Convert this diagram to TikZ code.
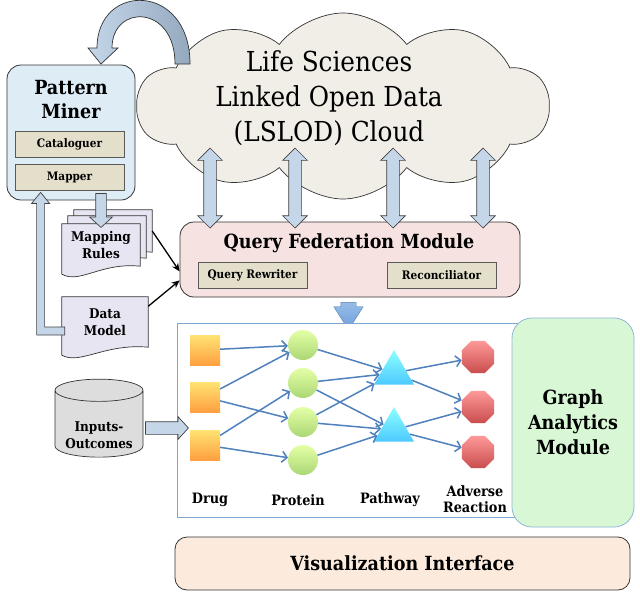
\documentclass[tikz,border=0pt]{standalone}
\usepackage{fontspec}
\setmainfont{DejaVu Serif Condensed}
\usetikzlibrary{positioning,calc,arrows.meta,shapes.geometric,shapes.symbols,shapes.arrows,backgrounds}

\definecolor{minerblue}{HTML}{DDECF5}
\definecolor{khaki}{HTML}{E3DFCB}
\definecolor{cloudfill}{HTML}{F1EEE7}
\definecolor{linkblue}{HTML}{C5D6E9}
\definecolor{loopdark}{HTML}{94A9BF}
\definecolor{qfmpink}{HTML}{F6E2E0}
\definecolor{graphedge}{HTML}{7FA7D1}
\definecolor{gagreen}{HTML}{D8F7D5}
\definecolor{gaedge}{HTML}{8FB5D8}
\definecolor{vispeach}{HTML}{FCEBDD}
\definecolor{doclav}{HTML}{E7E5F2}
\definecolor{cylgray}{HTML}{DDDDDD}
\definecolor{edgeblue}{HTML}{4F81BD}
\definecolor{fedblue}{HTML}{6C9FDC}

\tikzset{
  module/.style={draw=black!80, rounded corners=14pt, line width=0.8pt},
  titletext/.style={font=\bfseries\fontsize{19.5}{24}\selectfont, align=center},
  subbox/.style={draw=black!65, fill=khaki, line width=0.6pt, minimum width=109,
    minimum height=26, inner sep=0pt, font=\bfseries\fontsize{11.7}{13}\selectfont},
  smalltext/.style={font=\bfseries\fontsize{13.4}{17}\selectfont, align=center},
  labeltext/.style={font=\bfseries\fontsize{14.3}{16}\selectfont, align=center},
  linkarrow/.style={double arrow, draw=black!75, fill=linkblue, line width=0.7pt,
    inner sep=6pt, double arrow head extend=6pt, minimum height=80, rotate=90},
  downarrow/.style={single arrow, draw=black!75, fill=linkblue, line width=0.7pt,
    inner sep=5pt, single arrow head extend=6pt, rotate=-90},
  blockline/.style={draw=black!75, fill=linkblue, line width=0.7pt},
  docline/.style={draw=black!80, fill=doclav, line width=0.7pt},
  docpage/.style={inner sep=0pt, minimum width=78, minimum height=42},
  drug/.style={rectangle, minimum size=30, inner sep=0pt, top color=orange!40!yellow!55!white, bottom color=orange!75!white},
  protein/.style={circle, minimum size=30, inner sep=0pt, top color=green!30!yellow!35!white, bottom color=green!45!yellow!55!gray!70},
  pathway/.style={regular polygon, regular polygon sides=3, minimum size=46, inner sep=0pt, top color=cyan!45!white, bottom color=cyan!70!blue!70},
  adverse/.style={regular polygon, regular polygon sides=8, minimum size=35, inner sep=0pt, top color=red!40!white, bottom color=red!70!black!70},
  flow/.style={draw=edgeblue, line width=1.5pt, -{Straight Barb[length=5pt,width=11pt]}},
  feed/.style={draw=black, line width=1.3pt, -{Stealth[length=8pt,width=7pt]}}
}

% wavy page outline round a named node
\newcommand{\docshape}[1]{%
  \draw[docline] (#1.north west) -- (#1.north east) -- (#1.south east)
    .. controls ($(#1.south)+(0,-4)$) and ($(#1.south west)+(18,18)$) .. ($(#1.south west)+(0,8)$) -- cycle;}

\begin{document}
\begin{tikzpicture}[x=1pt,y=-1pt]
  \useasboundingbox (0,0) rectangle (640,600);

  % the LSLOD cloud
  \node[cloud, cloud puffs=10, cloud puff arc=105, aspect=2.2, draw=black!80, fill=cloudfill, line width=0.7pt,
        minimum width=412, minimum height=186, inner sep=0pt] (lslod) at (343,106) {};
  \node[font=\fontsize{27.5}{35}\selectfont, align=center] (lslodtext) at (329,98)
    {Life Sciences\\Linked Open Data\\(LSLOD) Cloud};

  % loop back to the miner
  \shade[left color=linkblue, right color=loopdark, draw=black!80, line width=0.7pt]
    (190,64) .. controls (190,-18) and (97,-18) .. (97,48) -- (88,48) -- (101,64) -- (118,48) -- (112,48)
    .. controls (112,4) and (175,4) .. (175,64) -- cycle;

  % Pattern Miner
  \node[module, fill=minerblue, minimum width=128, minimum height=135] (pminer) at (71,132.5) {};
  \node[titletext] (pmtitle) at (71,100) {Pattern\\Miner};
  \node[subbox] (catal) at (69.5,144.5) {Cataloguer};
  \node[subbox] (mapper) at (69.5,177.5) {Mapper};

  % Query Federation Module
  \node[module, fill=qfmpink, minimum width=340, minimum height=75] (qfm) at (350,259.5) {};
  \node[titletext] (qfmtitle) at (349,243) {Query Federation Module};
  \node[subbox] (qrw) at (252.5,275.5) {Query Rewriter};
  \node[subbox] (recon) at (441.5,275.5) {Reconciliator};

  % cloud <-> federation
  \foreach \ax [count=\i] in {210,295,393,483}
    \node[linkarrow] (link\i) at (\ax,188) {};

  % mapping rules and data model
  \node[docpage] (mrules3) at (113,231) {};
  \node[docpage] (mrules2) at (107,237) {};
  \node[docpage, smalltext] (mrules) at (101,245) {Mapping\\Rules};
  \node[docpage, smalltext, minimum width=86, minimum height=50] (dmodel) at (105,322) {Data\\Model};
  \begin{scope}[on background layer]
    \docshape{mrules3}
    \docshape{mrules2}
    \docshape{mrules}
    \docshape{dmodel}
  \end{scope}

  \node[downarrow, minimum height=34, single arrow tip angle=95] (maparrow) at (101,208) {};

  % data model back to the miner
  \coordinate (ltail) at ($(dmodel.west)+(3,9)$);
  \coordinate (ltip) at ($(pminer.south west)+(34,-8)$);
  \filldraw[blockline] (ltail) ++(0,-4) -| ($(ltip)+(4,11)$) -- ++(5,0) -- (ltip)
    -- ++(-9,11) -- ++(5,0) |- ($(ltail)+(0,4)$) -- cycle;

  \draw[feed] (mrules3.east) -- (qfm.184);
  \draw[feed] (dmodel.20) -- (qfm.187);

  % federation -> graph
  \node[single arrow, rotate=-90, inner sep=7.5pt, single arrow head extend=7pt,
        single arrow tip angle=65, minimum height=26, draw=fedblue!80!black, line width=0.4pt,
        top color=fedblue!70!white, bottom color=fedblue] (fedarrow) at (348.5,310) {};

  % graph panel
  \node[draw=graphedge, fill=white, line width=0.8pt, minimum width=340, minimum height=194] (gbox) at (347,420) {};
  \node[module, draw=gaedge, fill=gagreen, minimum width=122, minimum height=209, rounded corners=20pt,
        font=\bfseries\fontsize{19.5}{25}\selectfont, align=center] (gam) at (573,422.5) {Graph\\Analytics\\Module};

  \foreach \y [count=\i] in {350,397,445}
    \node[drug] (d\i) at (205,\y) {};
  \foreach \y [count=\i] in {345,383,422,460}
    \node[protein] (p\i) at (303,\y) {};
  \foreach \y [count=\i] in {373,430}
    \node[pathway] (t\i) at (394,\y) {};
  \foreach \y [count=\i] in {357,407,452}
    \node[adverse] (a\i) at (478,\y) {};

  \foreach \s/\t in {d1/p1,d2/p1,d2/p3,d3/p2,d3/p4,p1/t1,p2/t1,p2/t2,p3/t1,p3/t2,p4/t2,t1/a1,t1/a2,t2/a2,t2/a3}
    \draw[flow] (\s) -- (\t);

  \node[labeltext] (ldrug) at (210,500) {Drug};
  \node[labeltext] (lprot) at (298,500) {Protein};
  \node[labeltext] (lpath) at (390,500) {Pathway};
  \node[labeltext] (ladv) at (475,499) {Adverse\\Reaction};

  % inputs
  \node[cylinder, shape border rotate=90, aspect=0.3, draw=black!80, fill=cylgray, line width=0.7pt,
        minimum width=88, minimum height=78, smalltext] (inout) at (99,426)
        {\phantom{Inputs-}\\\phantom{Outcomes}};
  \node[smalltext] (inouttext) at (99,435) {Inputs-\\Outcomes};
  \node[downarrow, rotate=90, minimum height=43, inner sep=6pt, single arrow head extend=5pt,
        single arrow tip angle=95] (inarrow) at (164,428) {};

  % Visualization Interface
  \node[module, fill=vispeach, minimum width=455, minimum height=53, rounded corners=12pt,
        titletext] (visif) at (402.5,563.5) {Visualization Interface};
\end{tikzpicture}
\end{document}
